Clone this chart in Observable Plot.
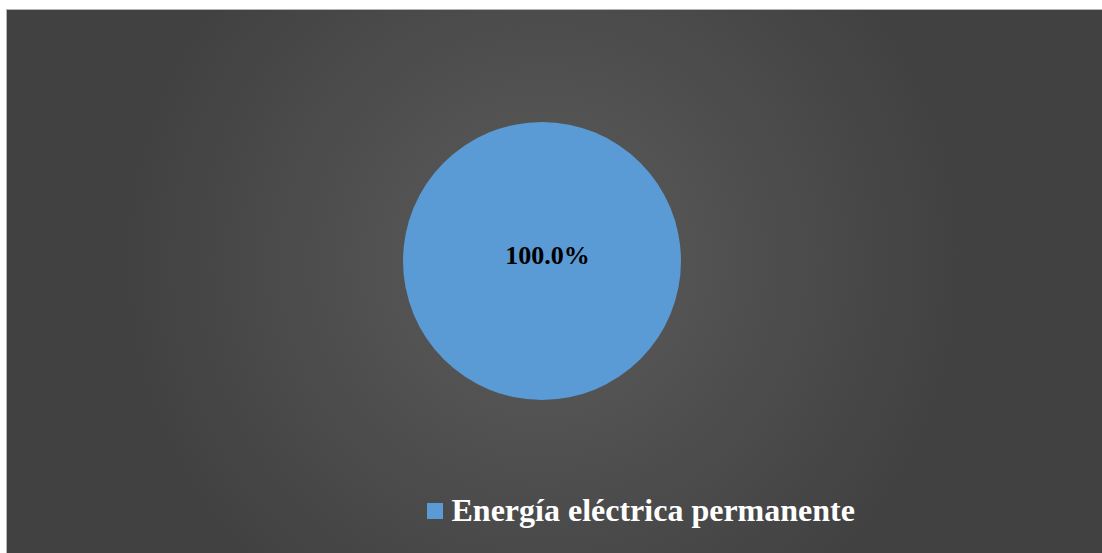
<!DOCTYPE html>
<html>
<head>
<meta charset="utf-8">
<script src="https://cdn.jsdelivr.net/npm/d3@7"></script>
<script src="https://cdn.jsdelivr.net/npm/@observablehq/plot@0.6"></script>
<style>
  html, body { margin: 0; padding: 0; background: #ffffff; }
  #frame {
    position: absolute; left: 6px; top: 9px; width: 1095px; height: 543px;
    border-left: 1px solid #b4b4b4; border-top: 1px solid #b4b4b4;
    background: radial-gradient(circle 420px at 536px 252px, #5c5c5c 0%, #414141 100%);
    overflow: hidden;
  }
  #frame svg { display: block; }
</style>
</head>
<body>
<div id="frame"></div>
<script>
const categories = ["Energía eléctrica permanente"];
const values = [100];
const colors = ["#5b9bd5"];

const data = categories.map((c, i) => ({category: c, value: values[i]}));
const total = d3.sum(values);

const W = 1095, H = 543;
const cx = 535 / W, cy = 251 / H; // pie centre in unit x/y scale
const R = 139;

function pieMark(index, scales) {
  const g = d3.create("svg:g");
  const x0 = scales.x(cx), y0 = scales.y(cy);
  const arcs = d3.pie().sort(null).value(d => d.value)(data);
  const arc = d3.arc().innerRadius(0).outerRadius(R);
  g.selectAll("path").data(arcs).join("path")
    .attr("transform", `translate(${x0},${y0})`)
    .attr("d", arc)
    .attr("fill", d => scales.color(d.data.category));
  return g.node();
}

const labelData = data.map(d => ({...d, pct: d3.format(".1%")(d.value / total)}));

const plot = Plot.plot({
  width: W, height: H,
  margin: 0,
  style: {background: "transparent", overflow: "visible"},
  x: {type: "linear", domain: [0, 1], range: [0, W], axis: null},
  y: {type: "linear", domain: [0, 1], range: [0, H], axis: null},
  color: {domain: categories, range: colors},
  marks: [
    pieMark,
    Plot.text(labelData, {
      x: () => cx, y: () => cy, text: "pct",
      fill: "#000000", fontSize: 26, fontWeight: "bold",
      fontFamily: "'Liberation Serif', 'Times New Roman', serif",
      dx: 5, dy: -6
    }),
    Plot.rect(data, {
      x1: () => 420 / W, x2: () => 436 / W,
      y1: () => 493 / H, y2: () => 509 / H,
      fill: "category"
    }),
    Plot.text(data, {
      x: () => 444 / W, y: () => 500 / H, text: "category",
      textAnchor: "start", fill: "#ffffff", fontSize: 32, fontWeight: "bold",
      fontFamily: "'Liberation Serif', 'Times New Roman', serif"
    })
  ]
});

document.getElementById("frame").appendChild(plot);
</script>
</body>
</html>
